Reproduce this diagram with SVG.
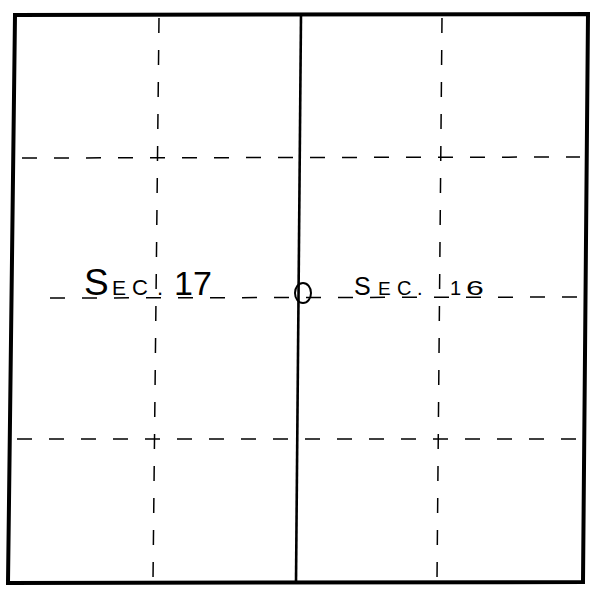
<svg xmlns="http://www.w3.org/2000/svg" width="592" height="589" viewBox="0 0 592 589">
<style>
.border{fill:none;stroke:#000;stroke-width:4;stroke-linejoin:miter}
.solid{stroke:#000;stroke-width:2.6;fill:none}
.dash{stroke:#000;stroke-width:1.5;stroke-dasharray:15 17;fill:none}
.lbl{font-family:"Liberation Sans",Arial,sans-serif;fill:#000}
</style>
<rect width="592" height="589" fill="#fff"/>
<g id="connectors">
<polygon class="border" points="15,15 588,14 583,582 8,583"/>
<line class="solid" x1="301" y1="15" x2="296" y2="582"/>
<line class="dash" x1="159" y1="18" x2="153" y2="580"/>
<line class="dash" x1="442" y1="18" x2="437" y2="580"/>
<line class="dash" x1="22" y1="158" x2="580" y2="157"/>
<line class="dash" x1="50" y1="298" x2="580" y2="297"/>
<line class="dash" x1="17" y1="439" x2="580" y2="439"/>
</g>
<g id="sec17">
<text class="lbl" y="295"><tspan x="84" font-size="37">S</tspan><tspan x="112" font-size="21">E</tspan><tspan x="132" font-size="22">C</tspan><tspan x="157" font-size="22">.</tspan><tspan x="174" font-size="34">17</tspan></text>
</g>
<g id="marker">
<ellipse cx="303" cy="293" rx="8" ry="10" fill="none" stroke="#000" stroke-width="2"/>
</g>
<g id="sec16">
<text class="lbl" y="295"><tspan x="354" font-size="25">S</tspan><tspan x="378" font-size="19">E</tspan><tspan x="397" font-size="20">C</tspan><tspan x="417" font-size="20">.</tspan><tspan x="450" font-size="20">1</tspan></text>
<text class="lbl" font-size="20" transform="translate(466,295) scale(1.6,1)">6</text>
</g>
</svg>
